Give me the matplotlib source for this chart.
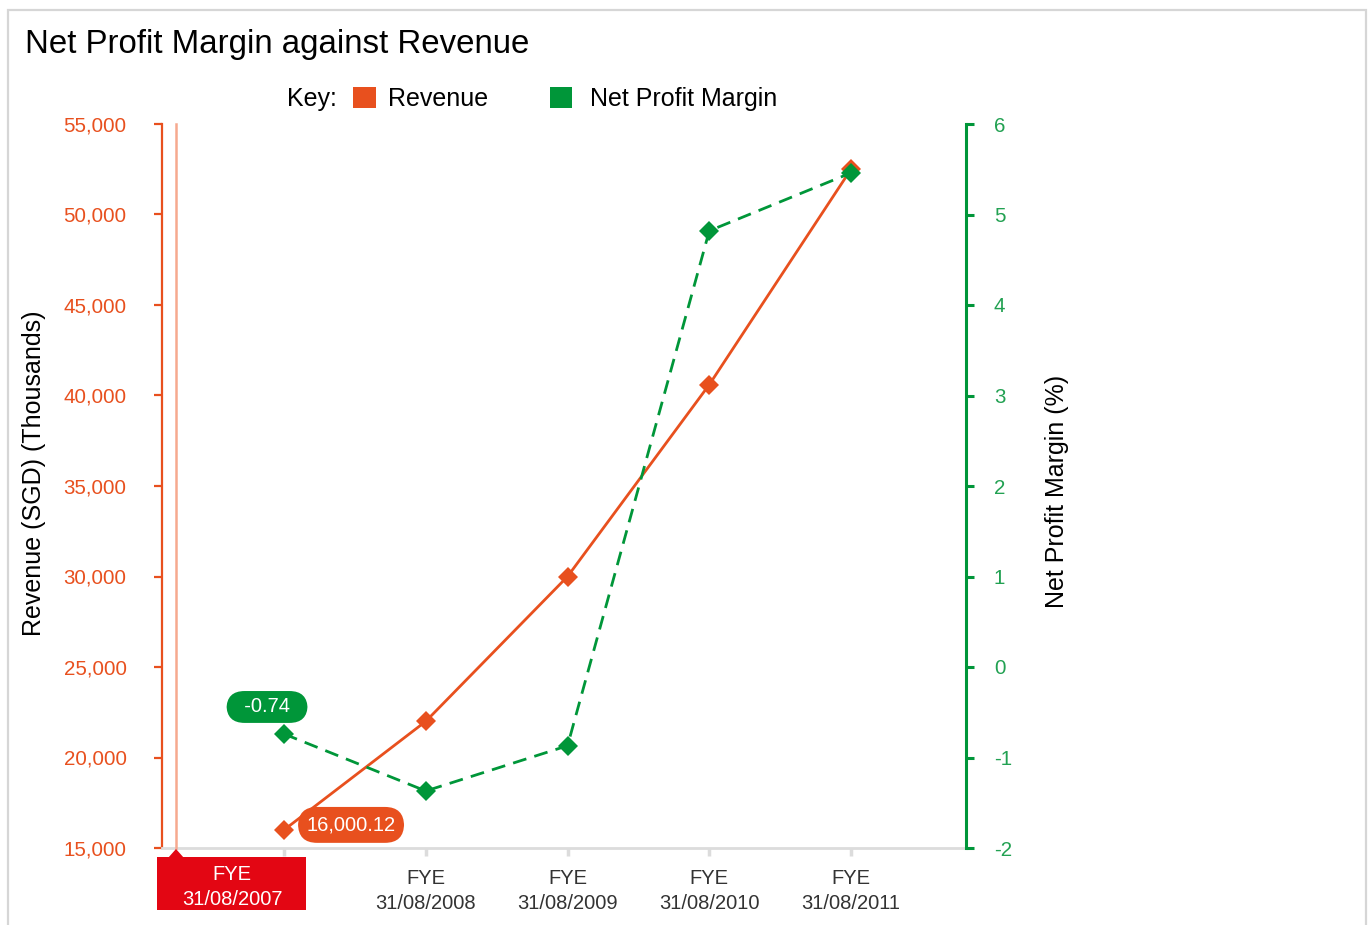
import matplotlib
matplotlib.use("Agg")
import matplotlib.pyplot as plt
from matplotlib.patches import Rectangle, Polygon
from matplotlib.lines import Line2D

plt.rcParams['font.family'] = ['Liberation Sans', 'DejaVu Sans']
plt.rcParams['axes.unicode_minus'] = False

# ---- data ----
categories = ["FYE\n31/08/2007", "FYE\n31/08/2008", "FYE\n31/08/2009",
              "FYE\n31/08/2010", "FYE\n31/08/2011"]
revenue = [16000.12, 22000, 30000, 40600, 52500]      # SGD thousands
net_margin = [-0.74, -1.37, -0.87, 4.82, 5.46]         # percent
rev_ticks = [15000, 20000, 25000, 30000, 35000, 40000, 45000, 50000, 55000]
npm_ticks = [-2, -1, 0, 1, 2, 3, 4, 5, 6]

ORANGE = "#E8501E"
GREEN = "#009639"
GREEN_TXT = "#22A152"
RED = "#E30613"
GRID_GREY = "#DCDCDC"

W, H = 1371, 925
fig = plt.figure(figsize=(W / 100, H / 100), dpi=100)


def fx(x):
    return x / W


def fy(y):
    return 1 - y / H


# panel frame
fig.patches.append(Rectangle((fx(8), fy(935)), fx(1366) - fx(8), fy(10) - fy(935),
                             transform=fig.transFigure, fill=False,
                             edgecolor="#D6D6D6", linewidth=1.6, zorder=0))

# main axes
ax = fig.add_axes([fx(162), fy(848), fx(966) - fx(162), fy(124) - fy(848)])
ax.set_facecolor("none")
n = len(categories)
ax.set_xlim(-0.861, 4.811)
ax.set_ylim(rev_ticks[0], rev_ticks[-1])

ax.plot(range(n), revenue, color=ORANGE, lw=2, marker="D", ms=10,
        markeredgewidth=0, zorder=3)

for s in ("top", "right"):
    ax.spines[s].set_visible(False)
ax.spines["left"].set_color(ORANGE)
ax.spines["left"].set_linewidth(1.6)
ax.spines["bottom"].set_color(GRID_GREY)
ax.spines["bottom"].set_linewidth(2)

ax.set_yticks(rev_ticks)
ax.set_yticklabels([f"{v:,}" for v in rev_ticks])
ax.tick_params(axis="y", colors=ORANGE, labelcolor=ORANGE, length=5.5,
               width=1.6, pad=20, labelsize=14.8)
ax.set_xticks(range(n))
ax.set_xticklabels([""] + categories[1:])
ax.tick_params(axis="x", colors=GRID_GREY, labelcolor="#333333", length=6,
               width=2.5, pad=9, labelsize=14.5)
for lbl in ax.get_xticklabels():
    lbl.set_linespacing(1.38)

# secondary axis for margin
ax2 = ax.twinx()
ax2.set_ylim(npm_ticks[0], npm_ticks[-1])
ax2.plot(range(n), net_margin, color=GREEN, lw=2, ls=(0, (5, 3)), marker="D",
         ms=10, markeredgewidth=0, zorder=4)
for s in ("top", "left", "bottom"):
    ax2.spines[s].set_visible(False)
ax2.spines["right"].set_color(GREEN)
ax2.spines["right"].set_linewidth(2.2)
ax2.set_yticks(npm_ticks)
ax2.tick_params(axis="y", colors=GREEN, labelcolor=GREEN_TXT, length=6,
                width=2.2, pad=14, labelsize=14.8)

# value callouts on the first period
ax2.annotate(f"  {net_margin[0]:.2f}  ", xy=(0, net_margin[0]), xytext=(-17, 27),
             textcoords="offset pixels", ha="center", va="center",
             color="white", fontsize=14.5,
             bbox=dict(boxstyle="round,pad=0.32,rounding_size=0.9",
                       fc=GREEN, ec="none"), zorder=6)
ax.annotate(f"{revenue[0]:,.2f}", xy=(0, revenue[0]), xytext=(67, 5),
            textcoords="offset pixels", ha="center", va="center",
            color="white", fontsize=14.5,
            bbox=dict(boxstyle="round,pad=0.42,rounding_size=0.95",
                      fc=ORANGE, ec="none"), zorder=6)

# hover crosshair and highlighted category label
fig.add_artist(Line2D([fx(176), fx(176)], [fy(848), fy(124)],
                      transform=fig.transFigure, color="#F6A98F", lw=1.8,
                      zorder=1))
fig.patches.append(Rectangle((fx(157), fy(910)), fx(306) - fx(157),
                             fy(857) - fy(910), transform=fig.transFigure,
                             facecolor=RED, edgecolor="none", zorder=5))
fig.patches.append(Polygon([(fx(168), fy(858)), (fx(176), fy(849)),
                            (fx(184), fy(858))], closed=True,
                           transform=fig.transFigure, facecolor=RED,
                           edgecolor="none", zorder=5))
fig.text(fx(232), fy(887), categories[0], ha="center", va="center",
         color="white", fontsize=14.5, linespacing=1.35, zorder=6)

# axis titles
fig.text(fx(34), fy(473), "Revenue (SGD) (Thousands)", rotation=90,
         ha="center", va="center", fontsize=18, color="black")
fig.text(fx(1057), fy(491), "Net Profit Margin (%)", rotation=90,
         ha="center", va="center", fontsize=18, color="black")

# chart title
fig.text(fx(25), fy(53), "Net Profit Margin against Revenue", ha="left",
         va="baseline", fontsize=23.8, color="black")

# key
fig.text(fx(287), fy(99), "Key:", ha="left", va="center", fontsize=18)
fig.patches.append(Rectangle((fx(353), fy(108)), fx(376) - fx(353),
                             fy(87) - fy(108), transform=fig.transFigure,
                             facecolor=ORANGE, edgecolor="none"))
fig.text(fx(388), fy(99), "Revenue", ha="left", va="center", fontsize=18)
fig.patches.append(Rectangle((fx(550), fy(108)), fx(572) - fx(550),
                             fy(87) - fy(108), transform=fig.transFigure,
                             facecolor=GREEN, edgecolor="none"))
fig.text(fx(590), fy(99), "Net Profit Margin", ha="left", va="center",
         fontsize=18)

fig.savefig("out.png", dpi=100)
